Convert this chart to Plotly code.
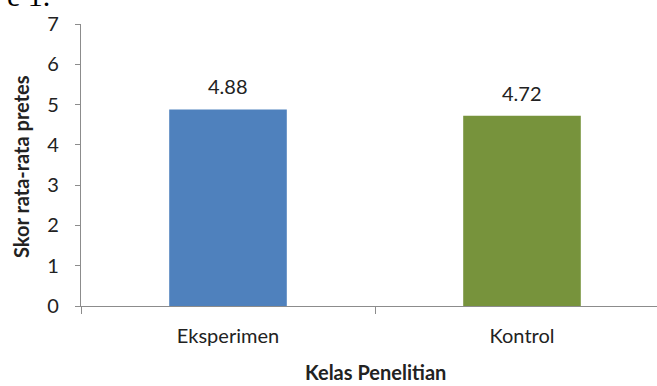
import plotly.graph_objects as go

categories = ["Eksperimen", "Kontrol"]
values = [4.88, 4.72]
value_labels = ["4.88", "4.72"]
colors = ["#4F81BD", "#77933C"]
y_title = "Skor rata-rata pretes"
x_title = "Kelas Penelitian"
caption = "e 1."

W, H = 657, 386
L, T, B = 81, 24, 80
pw, ph = W - L, H - T - B
cat_w = 294.0

FONT = "Lato"
fig = go.Figure()
fig.add_trace(go.Bar(
    x=categories, y=values, width=0.4,
    marker=dict(color=colors, line=dict(width=0)),
    hoverinfo="skip", showlegend=False,
))

for c, v, t in zip(categories, values, value_labels):
    fig.add_annotation(x=c, y=v, text=t, showarrow=False, xref="x", yref="y",
                       yanchor="bottom", yshift=9,
                       font=dict(family=FONT, size=20, color="#222222"))

def px_x(p):
    return (p - L) / pw

def px_y(p):
    return (H - B - p) / ph

fig.add_annotation(text=f"<b>{x_title}</b>", x=px_x(375), y=px_y(386), xref="paper", yref="paper",
                   showarrow=False, xanchor="center", yanchor="bottom",
                   font=dict(family=FONT, size=20, color="#222222"))
fig.add_annotation(text=f"<b>{y_title}</b>", x=px_x(21), y=px_y(167), xref="paper", yref="paper",
                   showarrow=False, xanchor="center", yanchor="middle", textangle=-90,
                   font=dict(family=FONT, size=20, color="#222222"))
fig.add_annotation(text=caption, x=px_x(52), y=px_y(14), xref="paper", yref="paper",
                   showarrow=False, xanchor="right", yanchor="bottom",
                   font=dict(family="Liberation Serif", size=30, color="#000000"))

right = -0.5 + pw / cat_w
fig.update_layout(
    width=W, height=H,
    margin=dict(l=L, r=0, t=T, b=B, pad=0),
    paper_bgcolor="white", plot_bgcolor="white",
    bargap=0.6,
    xaxis=dict(type="category", range=[-0.5, right], tickson="boundaries",
               showline=True, linecolor="#8C8C8C", linewidth=1.3,
               ticks="outside", ticklen=7, tickcolor="#8C8C8C", tickwidth=1.3,
               showgrid=False, zeroline=False, ticklabelstandoff=12,
               tickfont=dict(family=FONT, size=20, color="#222222")),
    yaxis=dict(range=[0, 7], dtick=1, tick0=0,
               showline=True, linecolor="#8C8C8C", linewidth=1.3,
               ticks="outside", ticklen=5, tickcolor="#8C8C8C", tickwidth=1.3,
               showgrid=False, zeroline=False, ticklabelstandoff=12,
               tickfont=dict(family=FONT, size=20, color="#222222")),
)

fig.write_html("out.html")
